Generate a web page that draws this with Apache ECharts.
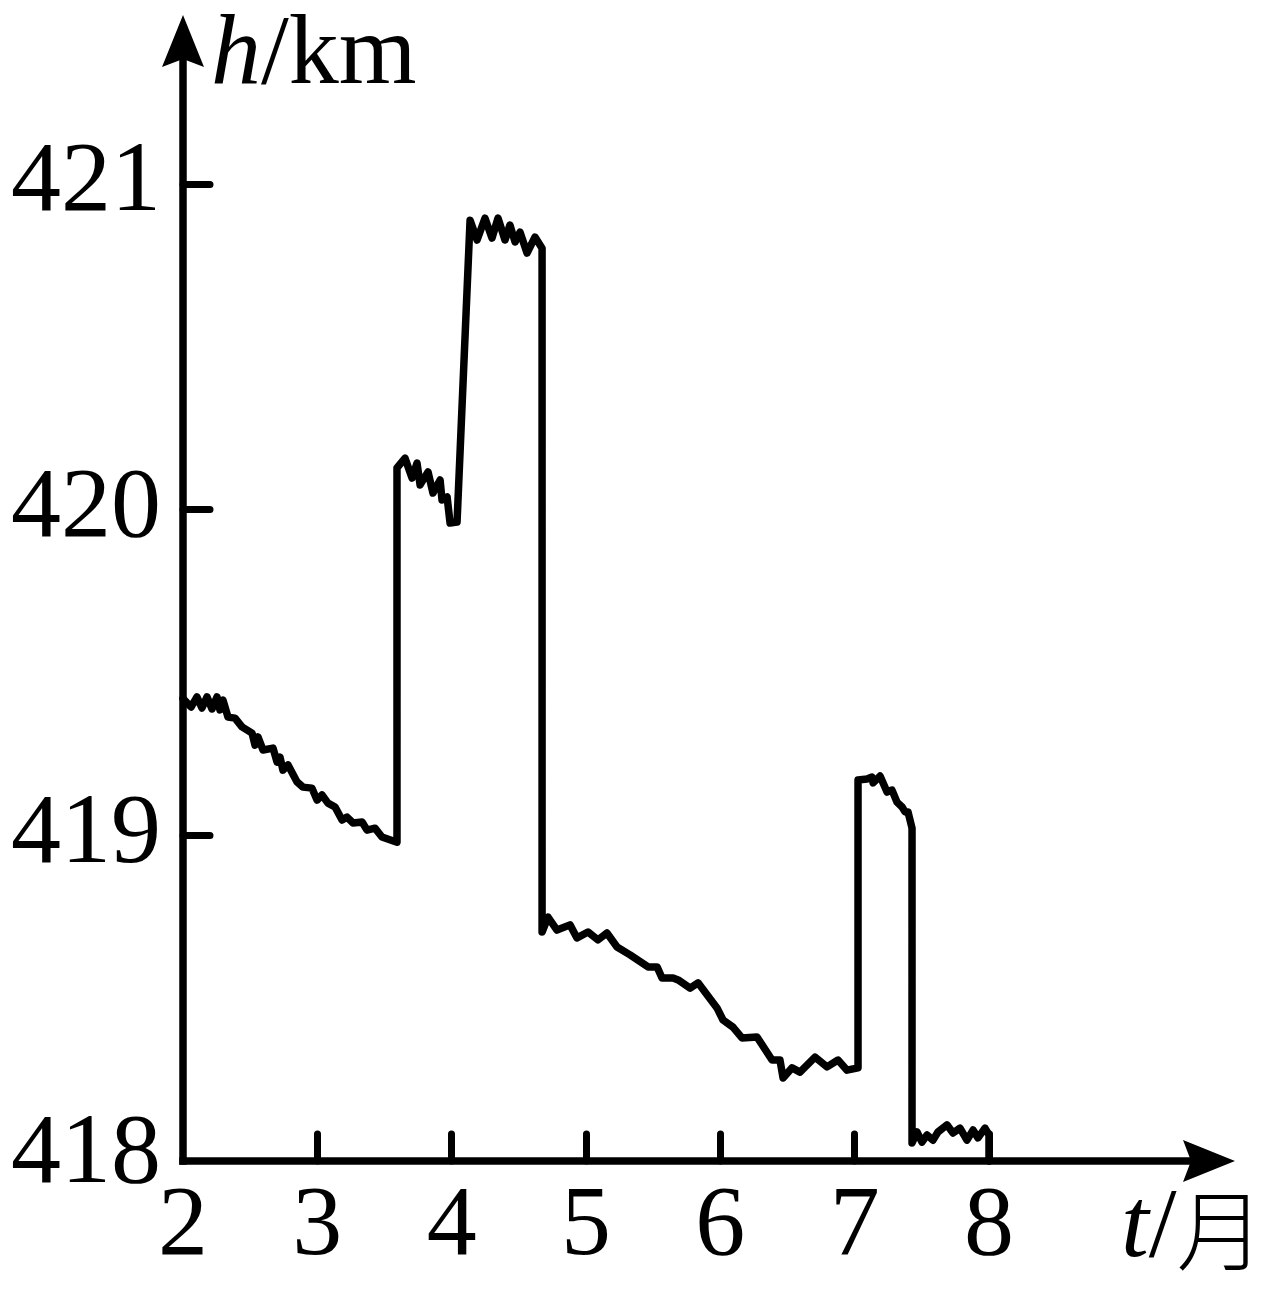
<!DOCTYPE html>
<html>
<head>
<meta charset="utf-8">
<script src="https://cdn.jsdelivr.net/npm/echarts@6/dist/echarts.min.js"></script>
<style>
  html, body { margin: 0; padding: 0; background: #fff; }
  #chart { width: 1270px; height: 1290px; }
</style>
</head>
<body>
<div id="chart"></div>
<script>
// t (month) values along the trace
const months = [2.0, 2.06, 2.104, 2.141, 2.179, 2.216, 2.253, 2.275, 2.298, 2.335,
  2.387, 2.439, 2.514, 2.536, 2.558, 2.596, 2.670, 2.700, 2.722, 2.744,
  2.782, 2.849, 2.893, 2.960, 2.998, 3.035, 3.079, 3.132, 3.184, 3.221,
  3.266, 3.333, 3.370, 3.429, 3.481, 3.593,
  3.593, 3.653, 3.705, 3.742, 3.765, 3.824, 3.861, 3.914, 3.928, 3.966, 3.988, 4.040,
  4.137, 4.189, 4.248, 4.300, 4.345, 4.397, 4.434, 4.472, 4.509, 4.561, 4.620, 4.673,
  4.673, 4.717, 4.784, 4.881, 4.933, 5.015, 5.089, 5.156, 5.231, 5.328,
  5.462, 5.529, 5.566, 5.648, 5.686, 5.775, 5.834, 5.975, 6.020, 6.094,
  6.161, 6.273, 6.385, 6.444, 6.467, 6.534, 6.593, 6.705, 6.794, 6.876,
  6.943, 7.025,
  7.025, 7.092, 7.129, 7.137, 7.189, 7.241, 7.278, 7.315, 7.353, 7.375, 7.397, 7.427,
  7.427, 7.464, 7.501, 7.539, 7.583, 7.620, 7.687, 7.732, 7.784, 7.836, 7.881, 7.918, 7.970, 8.0,
  8.0];
// h (km) values along the trace
const heights = [419.42, 419.394, 419.425, 419.391, 419.425, 419.388, 419.425, 419.385, 419.415, 419.363,
  419.360, 419.333, 419.314, 419.277, 419.302, 419.262, 419.268, 419.225, 419.240, 419.200,
  419.216, 419.164, 419.148, 419.145, 419.108, 419.124, 419.099, 419.087, 419.047, 419.056,
  419.038, 419.041, 419.016, 419.022, 418.995, 418.979,
  420.128, 420.158, 420.097, 420.143, 420.076, 420.116, 420.051, 420.091, 420.030, 420.039, 419.959, 419.962,
  420.889, 420.828, 420.895, 420.834, 420.895, 420.828, 420.874, 420.822, 420.852, 420.788, 420.837, 420.803,
  418.703, 418.749, 418.709, 418.725, 418.685, 418.703, 418.679, 418.700, 418.657, 418.633,
  418.596, 418.596, 418.562, 418.562, 418.556, 418.531, 418.547, 418.470, 418.433, 418.411,
  418.378, 418.381, 418.310, 418.310, 418.255, 418.286, 418.273, 418.319, 418.289, 418.310,
  418.279, 418.286,
  419.170, 419.173, 419.179, 419.161, 419.182, 419.133, 419.139, 419.102, 419.087, 419.072, 419.072, 419.022,
  418.055, 418.089, 418.058, 418.080, 418.064, 418.089, 418.111, 418.086, 418.101, 418.064, 418.095, 418.071, 418.101, 418.080,
  418.0];

const xTickLabels = [2, 3, 4, 5, 6, 7, 8];
const xTickMarks = [3, 4, 5, 6, 7, 8];
const yTickLabels = [418, 419, 420, 421];
const yTickMarks = [419, 420, 421];

const serif = '"Liberation Serif", "Times New Roman", "DejaVu Serif", serif';
const arrowPath = 'path://M21,0 L42,52 L21,44 L0,52 Z';

const chart = echarts.init(document.getElementById('chart'), null, { renderer: 'canvas' });

const points = months.map((m, i) => [m, heights[i]]);

chart.setOption({
  backgroundColor: '#ffffff',
  animation: false,
  grid: { left: 183, right: 61, top: 41, bottom: 129, containLabel: false },
  xAxis: {
    type: 'value',
    min: 2,
    max: 2 + 1026 * 6 / 806,
    splitLine: { show: false },
    axisLine: {
      show: true,
      onZero: false,
      symbol: ['none', arrowPath],
      symbolSize: [42, 52],
      lineStyle: { color: '#000', width: 7.5, cap: 'square' }
    },
    axisTick: {
      show: true, inside: true, length: 27,
      customValues: xTickMarks,
      lineStyle: { color: '#000', width: 7, cap: 'round' }
    },
    axisLabel: {
      show: true,
      customValues: xTickLabels,
      margin: 17,
      color: '#000',
      fontFamily: serif,
      fontSize: 100,
      formatter: v => String(v)
    }
  },
  yAxis: {
    type: 'value',
    min: 418,
    max: 418 + 1120 * 3 / 977,
    splitLine: { show: false },
    axisLine: {
      show: true,
      onZero: false,
      symbol: ['none', arrowPath],
      symbolSize: [42, 52],
      lineStyle: { color: '#000', width: 7.5, cap: 'square' }
    },
    axisTick: {
      show: true, inside: true, length: 27,
      customValues: yTickMarks,
      lineStyle: { color: '#000', width: 7, cap: 'round' }
    },
    axisLabel: {
      show: true,
      customValues: yTickLabels,
      margin: 22,
      color: '#000',
      fontFamily: serif,
      fontSize: 100,
      formatter: v => (v === 418 ? '{low|' + v + '}' : String(v)),
      rich: {
        low: { fontFamily: serif, fontSize: 100, color: '#000', padding: [0, 0, 10, 0] }
      }
    }
  },
  graphic: [
    {
      type: 'text', x: 211, y: 57,
      style: {
        text: '{i|h}{n|/km}',
        verticalAlign: 'middle',
        rich: {
          i: { fontFamily: serif, fontStyle: 'italic', fontSize: 100, fill: '#000' },
          n: { fontFamily: serif, fontSize: 100, fill: '#000' }
        }
      }
    },
    {
      type: 'text', x: 1121, y: 1230,
      style: {
        text: '{i|t}{n|/}{c|月}',
        verticalAlign: 'middle',
        rich: {
          i: { fontFamily: serif, fontStyle: 'italic', fontSize: 100, fill: '#000' },
          n: { fontFamily: serif, fontSize: 100, fill: '#000' },
          c: { fontFamily: '"Noto Sans CJK SC", sans-serif', fontWeight: 300, fontSize: 88, fill: '#000' }
        }
      }
    }
  ],
  series: [{
    type: 'line',
    data: points,
    showSymbol: false,
    symbol: 'none',
    clip: false,
    lineStyle: { color: '#000', width: 7.5, join: 'round', cap: 'round' }
  }]
});
</script>
</body>
</html>
